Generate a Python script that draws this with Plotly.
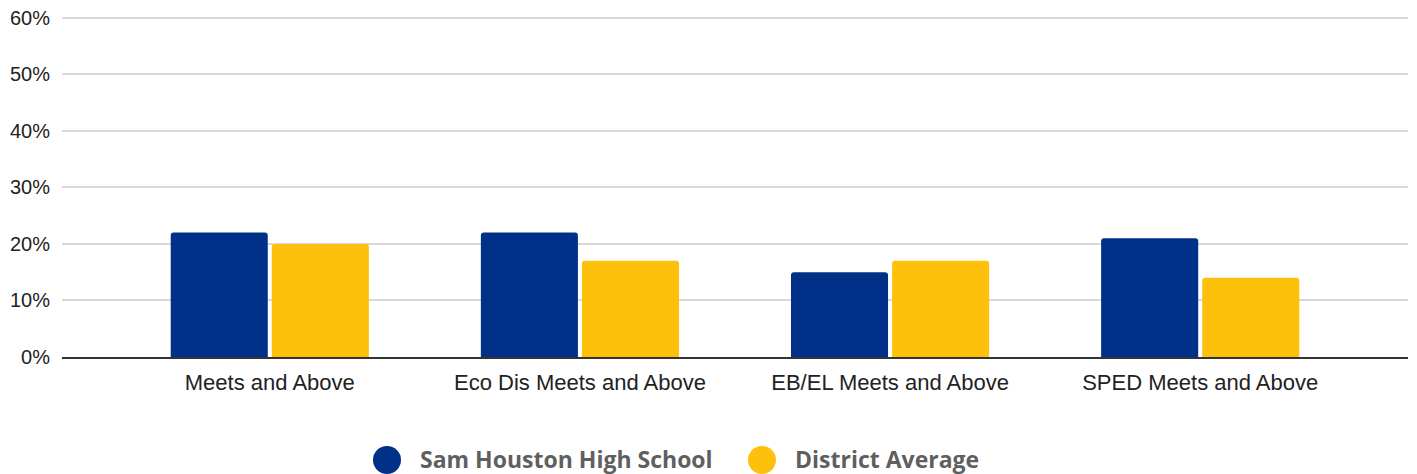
import plotly.graph_objects as go

categories = ["Meets and Above", "Eco Dis Meets and Above", "EB/EL Meets and Above", "SPED Meets and Above"]
school_values = [0.22, 0.22, 0.15, 0.21]
district_values = [0.20, 0.17, 0.17, 0.14]
series_names = ["Sam Houston High School", "District Average"]
series_colors = ["#003087", "#fdc10c"]
y_ticks = [0, 0.1, 0.2, 0.3, 0.4, 0.5, 0.6]

fig = go.Figure()
for name, vals, color in zip(series_names, [school_values, district_values], series_colors):
    fig.add_trace(
        go.Bar(
            x=categories,
            y=vals,
            name=name,
            marker=dict(color=color, cornerradius=3, line=dict(width=0)),
            showlegend=False,
        )
    )

# plot area in screen px: left 62, width 1346, bottom 357, height 341
PL, PW, PB, PH = 62, 1346, 357, 341

# custom legend with big round markers (plotly's legend symbols are too small)
legend_x = [387, 762]
for name, color, cx in zip(series_names, series_colors, legend_x):
    fig.add_shape(
        type="circle", xref="paper", yref="paper", layer="above",
        x0=(cx - 14 - PL) / PW, x1=(cx + 14 - PL) / PW,
        y0=(PB - 474) / PH, y1=(PB - 446) / PH,
        fillcolor=color, line=dict(width=0),
    )
    fig.add_annotation(
        text=name, xref="paper", yref="paper",
        x=(cx + 31 - PL) / PW, y=(PB - 459) / PH,
        xanchor="left", yanchor="middle", showarrow=False,
        font=dict(family="Open Sans", size=23, color="#5f5f5f", weight="bold"),
    )

# page body has an 8px margin, so the figure is shrunk/shifted to compensate
fig.update_layout(
    width=1409,
    height=466,
    margin=dict(l=54, r=9, t=8, b=117),
    plot_bgcolor="white",
    paper_bgcolor="white",
    barmode="group",
    bargap=0.348,
    bargroupgap=0.04,
    font=dict(family="Liberation Sans, Arial", size=20, color="#222222"),
)
fig.update_xaxes(
    type="category",
    range=[-0.67, 3.67],
    showgrid=False,
    showline=True,
    linecolor="#333333",
    linewidth=1.5,
    ticks="",
    tickfont=dict(size=22, color="#222222"),
    ticklabelstandoff=5,
    automargin=False,
)
fig.update_yaxes(
    range=[0, 0.603],
    tickvals=y_ticks,
    tickformat=".0%",
    showgrid=True,
    gridcolor="#d9d9d9",
    gridwidth=1.5,
    zeroline=False,
    showline=False,
    ticks="",
    tickfont=dict(size=20, color="#222222"),
    ticklabelstandoff=11,
    ticklabeloverflow="allow",
    automargin=False,
)

fig.write_html("out.html")
